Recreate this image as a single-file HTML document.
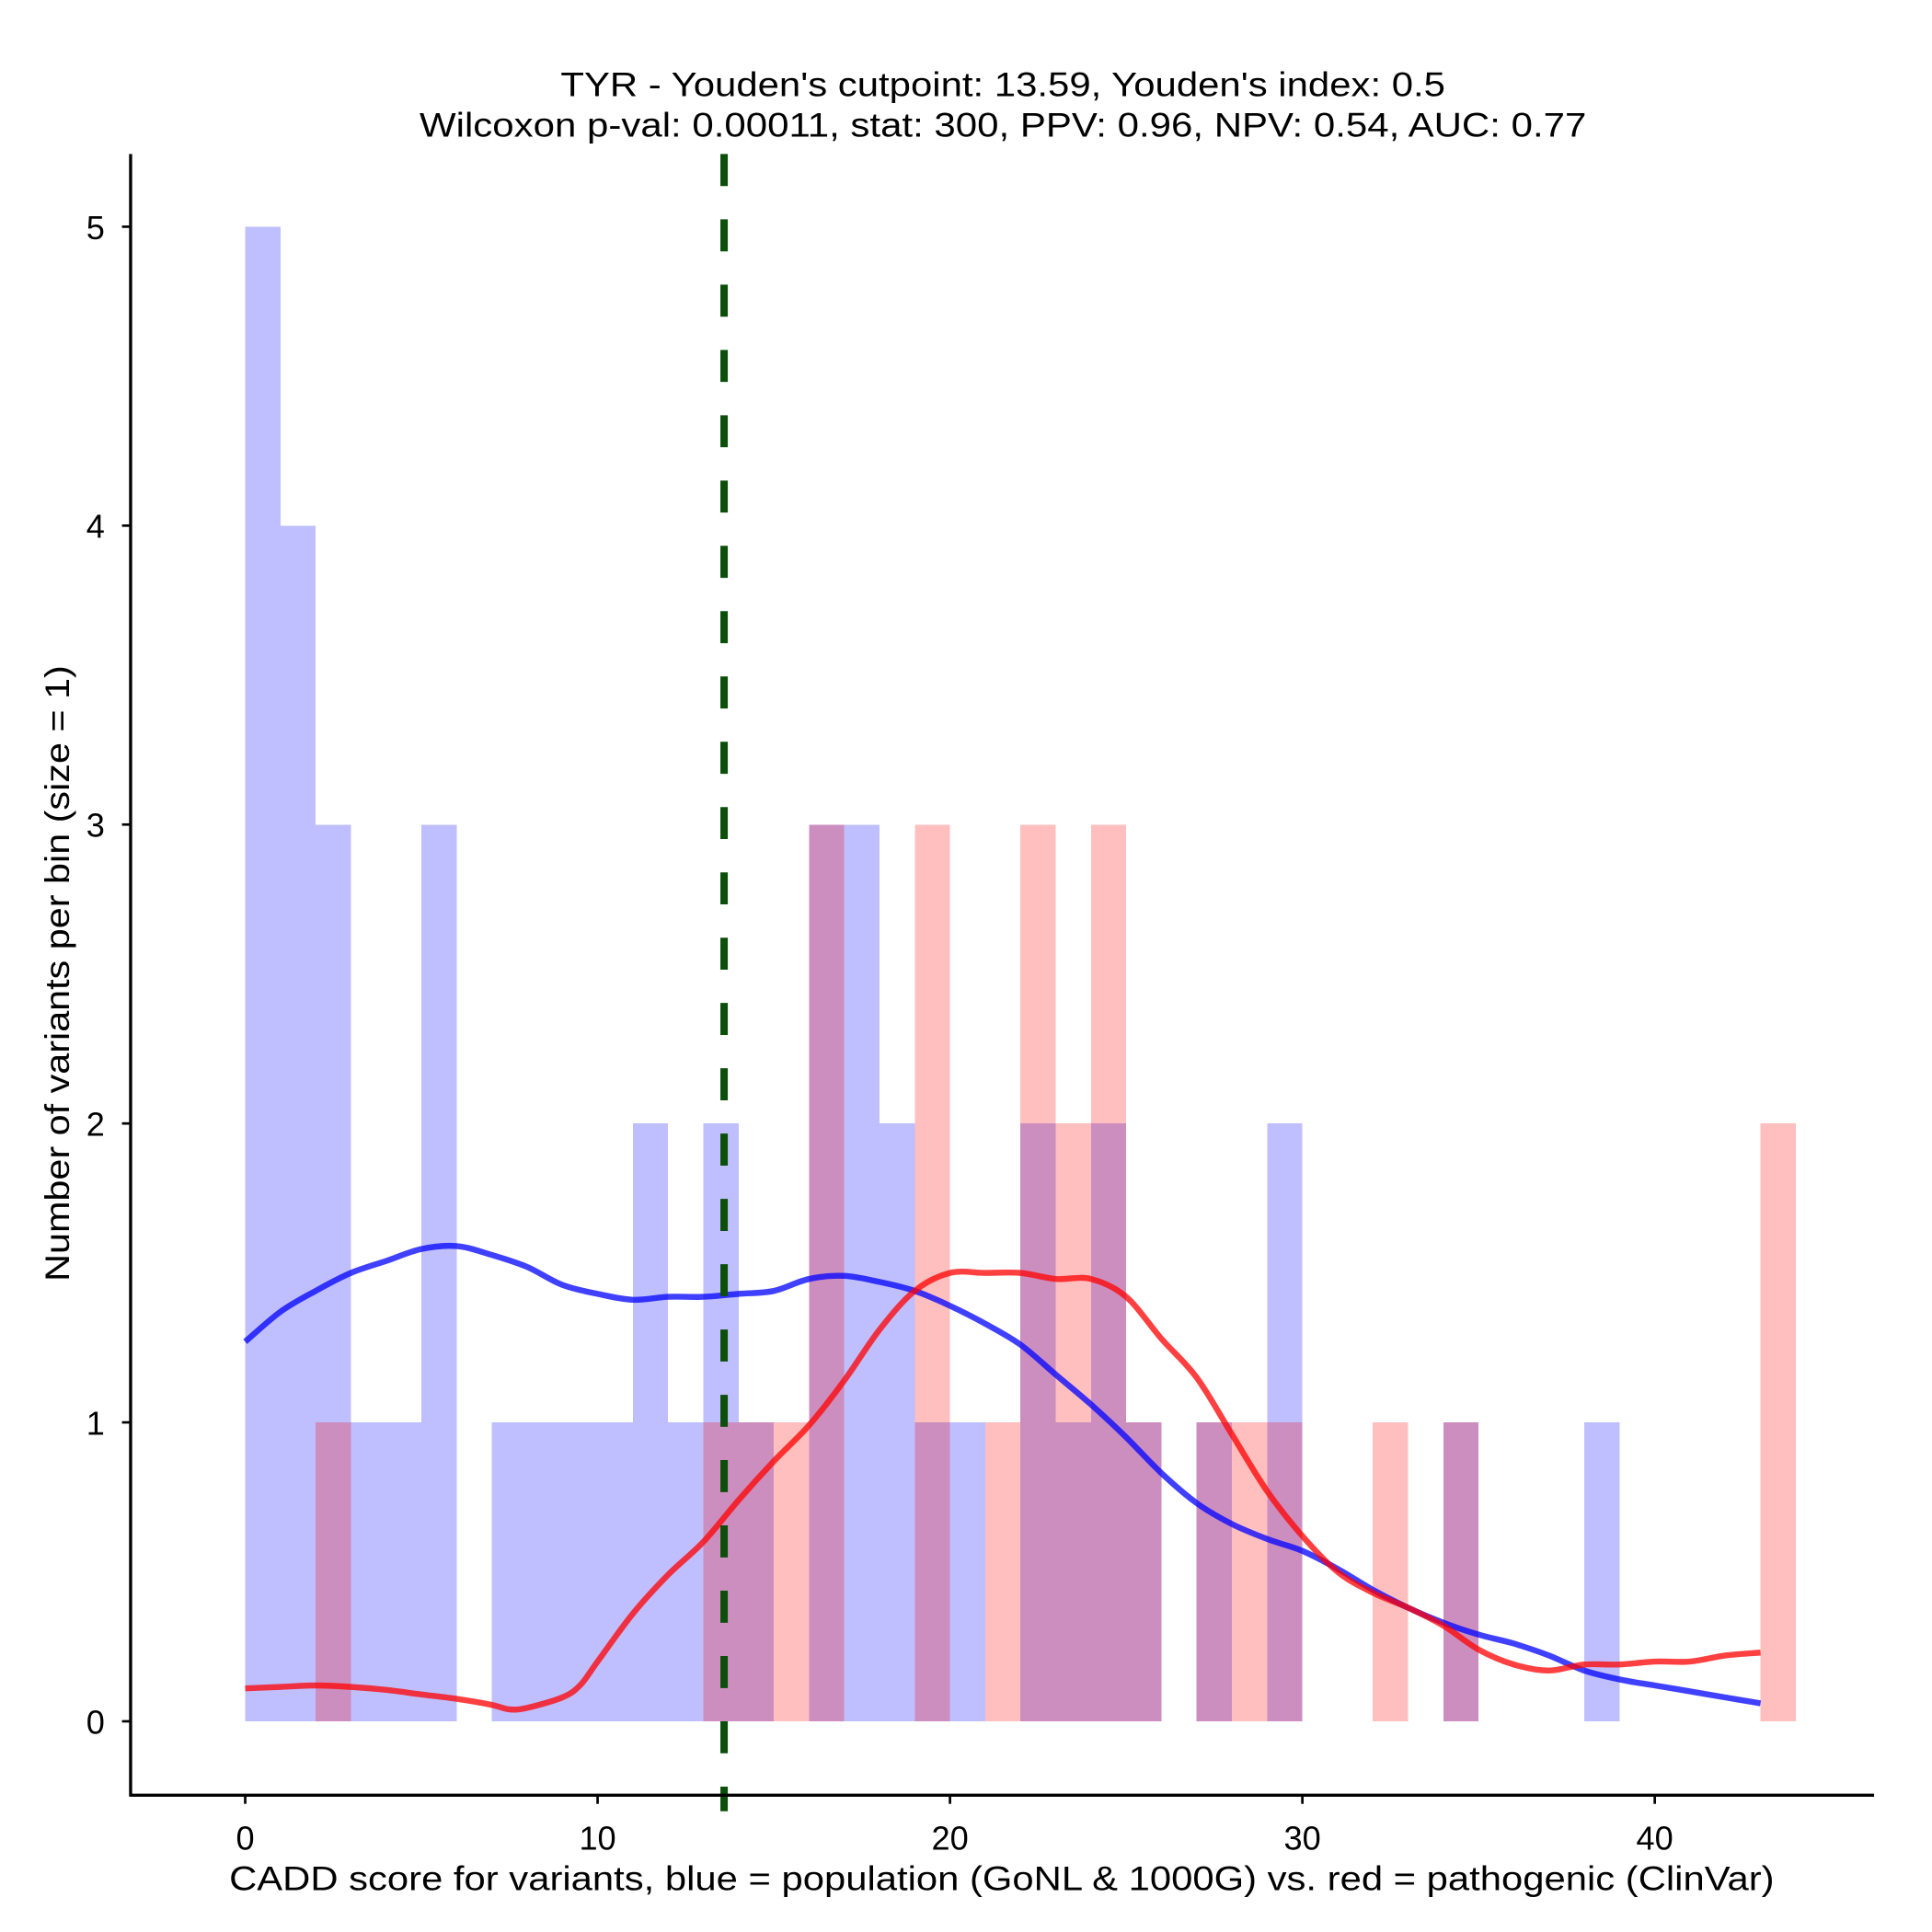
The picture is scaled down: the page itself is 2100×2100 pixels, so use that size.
<!DOCTYPE html>
<html><head><meta charset="utf-8"><style>
html,body{margin:0;padding:0;background:#fff}
svg{display:block}
text{font-family:"Liberation Sans",Arial,sans-serif;fill:#000}
</style></head><body>
<svg id="chart" width="2100" height="2100" viewBox="0 0 1568 1568" xmlns="http://www.w3.org/2000/svg">
<text x="814" y="78" font-size="28" text-anchor="middle" textLength="718" lengthAdjust="spacingAndGlyphs">TYR - Youden's cutpoint: 13.59, Youden's index: 0.5</text>
<text x="814" y="111" font-size="28" text-anchor="middle" textLength="947" lengthAdjust="spacingAndGlyphs">Wilcoxon p-val: 0.00011, stat: 300, PPV: 0.96, NPV: 0.54, AUC: 0.77</text>
<g id="bars" shape-rendering="crispEdges"></g>
<g id="lines"></g>
<g id="axes"></g>
<text x="813" y="1534" font-size="28" text-anchor="middle" textLength="1254" lengthAdjust="spacingAndGlyphs">CADD score for variants, blue = population (GoNL &amp; 1000G) vs. red = pathogenic (ClinVar)</text>
<text x="0" y="0" font-size="28" text-anchor="middle" textLength="500" lengthAdjust="spacingAndGlyphs" transform="translate(56,790) rotate(-90)">Number of variants per bin (size = 1)</text>
</svg>
<script>
const binStarts = [0,1,2,3,4,5,6,7,8,9,10,11,12,13,14,15,16,17,18,19,20,21,22,23,24,25,26,27,28,29,30,31,32,33,34,35,36,37,38,39,40,41,42,43];
const blueCounts = [5,4,3,1,1,3,0,1,1,1,1,2,1,2,1,0,3,3,2,1,1,0,2,1,2,1,0,1,0,2,0,0,0,0,1,0,0,0,1,0,0,0,0,0];
const redCounts  = [0,0,1,0,0,0,0,0,0,0,0,0,0,1,1,1,3,0,0,3,0,1,3,2,3,1,0,1,1,1,0,0,1,0,1,0,0,0,0,0,0,0,0,2];
const blueKdeX = [0,1,2,3,4,5,6,7,8,9,10,11,12,13,14,15,16,17,18,19,20,21,22,23,24,25,26,27,28,29,30,31,32,33,34,35,36,37,38,39,40,41,42,43];
const blueKdeY = [1.27,1.37,1.44,1.5,1.54,1.58,1.59,1.56,1.52,1.46,1.43,1.41,1.42,1.42,1.43,1.44,1.48,1.49,1.47,1.44,1.39,1.33,1.26,1.16,1.06,0.95,0.83,0.73,0.66,0.61,0.57,0.51,0.44,0.38,0.33,0.29,0.26,0.22,0.17,0.14,0.12,0.1,0.08,0.06];
const redKdeX = [0,1,2,3,4,5,6,7,7.5,8,9,9.5,10,11,12,13,14,15,16,17,18,19,20,21,22,23,24,25,26,27,28,29,30,31,32,33,34,35,36,37,38,39,40,41,42,43];
const redKdeY = [0.11,0.115,0.12,0.115,0.105,0.09,0.075,0.055,0.04,0.045,0.08,0.12,0.2,0.36,0.49,0.6,0.74,0.87,0.99,1.14,1.31,1.44,1.5,1.5,1.5,1.48,1.48,1.42,1.28,1.15,0.96,0.77,0.62,0.5,0.43,0.38,0.32,0.24,0.19,0.17,0.19,0.19,0.2,0.2,0.22,0.23];
const cutpoint = 13.59;
const xTicks = [0,10,20,30,40];
const yTicks = [0,1,2,3,4,5];

const NS = "http://www.w3.org/2000/svg";
const sx = v => 199 + v * (1343 - 199) / 40;
const sy = v => 1397 - v * (1397 - 184) / 5;
function mk(tag, attrs, parent) { const e = document.createElementNS(NS, tag); for (const k in attrs) e.setAttribute(k, attrs[k]); parent.appendChild(e); return e; }
const bars = document.getElementById('bars');
binStarts.forEach((b, i) => {
  const bc = blueCounts[i], rc = redCounts[i], w = sx(b + 1) - sx(b);
  if (bc > 0) {
    const r = mk('rect', {x: sx(b), y: sy(bc), width: w, height: sy(0) - sy(bc), fill: '#bfbfff'}, bars);
    
    
  }
  if (rc > 0) {
    const r = mk('rect', {x: sx(b), y: sy(rc), width: w, height: sy(0) - sy(rc), fill: '#ffbfbf'}, bars);
    
    
  }
  const m = Math.min(bc, rc);
  if (m > 0) {
    const r = mk('rect', {x: sx(b), y: sy(m), width: w, height: sy(0) - sy(m), fill: '#cc8ebf'}, bars);
    
    
  }
});
const lines = document.getElementById('lines');
function smooth(xs, ys) {
  const p = xs.map((x, i) => [sx(x), sy(ys[i])]);
  let d = 'M' + p[0][0].toFixed(1) + ',' + p[0][1].toFixed(1);
  for (let i = 0; i < p.length - 1; i++) {
    const p0 = p[Math.max(0, i - 1)], p1 = p[i], p2 = p[i + 1], p3 = p[Math.min(p.length - 1, i + 2)];
    const c1 = [p1[0] + (p2[0] - p0[0]) / 6, p1[1] + (p2[1] - p0[1]) / 6];
    const c2 = [p2[0] - (p3[0] - p1[0]) / 6, p2[1] - (p3[1] - p1[1]) / 6];
    d += 'C' + c1[0].toFixed(1) + ',' + c1[1].toFixed(1) + ' ' + c2[0].toFixed(1) + ',' + c2[1].toFixed(1) + ' ' + p2[0].toFixed(1) + ',' + p2[1].toFixed(1);
  }
  return d;
}
const bl = mk('path', {d: smooth(blueKdeX, blueKdeY), fill: 'none', stroke: '#0000ff', 'stroke-opacity': 0.75, 'stroke-width': 4.8, 'stroke-linejoin': 'round'}, lines);


const rl = mk('path', {d: smooth(redKdeX, redKdeY), fill: 'none', stroke: '#ff0000', 'stroke-opacity': 0.75, 'stroke-width': 4.8, 'stroke-linejoin': 'round'}, lines);


const cl = mk('line', {x1: sx(cutpoint), x2: sx(cutpoint), y1: 125, y2: 1470, stroke: '#0b4f0b', 'stroke-width': 6, 'stroke-dasharray': '26,27'}, lines);


const axes = document.getElementById('axes');
const ya = mk('line', {x1: 106, x2: 106, y1: 125, y2: 1458, stroke: '#000', 'stroke-width': 2.5}, axes);


const xa = mk('line', {x1: 105, x2: 1521, y1: 1457, y2: 1457, stroke: '#000', 'stroke-width': 2.5}, axes);


xTicks.forEach(t => {
  const l = mk('line', {x1: sx(t), x2: sx(t), y1: 1457, y2: 1464, stroke: '#000', 'stroke-width': 2}, axes);
  
  
  const tx = mk('text', {x: sx(t), y: 1501, 'font-size': 27, 'text-anchor': 'middle'}, axes);
  tx.textContent = t;
  
  
});
yTicks.forEach(t => {
  const l = mk('line', {x1: 99, x2: 106, y1: sy(t), y2: sy(t), stroke: '#000', 'stroke-width': 2}, axes);
  
  
  const tx = mk('text', {x: 85, y: sy(t) + 10, 'font-size': 27, 'text-anchor': 'end'}, axes);
  tx.textContent = t;
  
  
});
</script>
</body></html>
